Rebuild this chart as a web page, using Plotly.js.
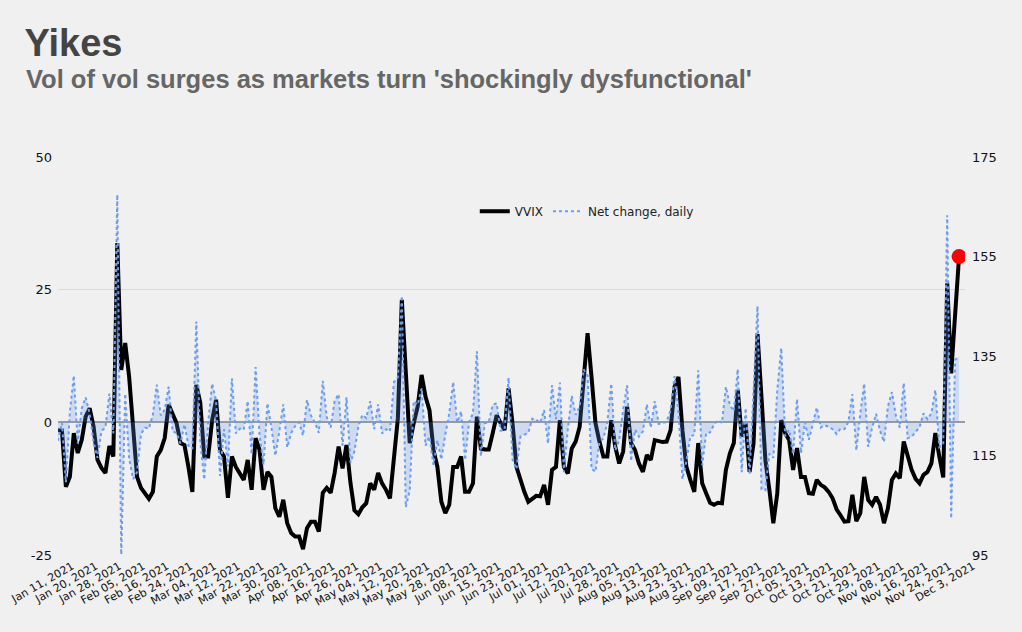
<!DOCTYPE html>
<html>
<head>
<meta charset="utf-8">
<script src="https://cdn.plot.ly/plotly-3.0.1.min.js"></script>
<style>
  html, body { margin: 0; padding: 0; background: #f0f0f0; }
  #chart { width: 1022px; height: 632px; }
</style>
</head>
<body>
<div id="chart"></div>
<script>
// Tick labels (one every 6 trading days)
const tickLabels = ["Jan 11, 2021","Jan 20, 2021","Jan 28, 2021","Feb 05, 2021","Feb 16, 2021","Feb 24, 2021","Mar 04, 2021","Mar 12, 2021","Mar 22, 2021","Mar 30, 2021","Apr 08, 2021","Apr 16, 2021","Apr 26, 2021","May 04, 2021","May 12, 2021","May 20, 2021","May 28, 2021","Jun 08, 2021","Jun 15, 2021","Jun 23, 2021","Jul 01, 2021","Jul 12, 2021","Jul 20, 2021","Jul 28, 2021","Aug 05, 2021","Aug 13, 2021","Aug 23, 2021","Aug 31, 2021","Sep 09, 2021","Sep 17, 2021","Sep 27, 2021","Oct 05, 2021","Oct 13, 2021","Oct 21, 2021","Oct 29, 2021","Nov 08, 2021","Nov 16, 2021","Nov 24, 2021","Dec 3, 2021"];
const tickStep = 6;

// VVIX level (right axis)
const vvix = [
120.1,120.0,108.7,110.7,119.5,115.5,118.1,122.8,124.5,120.8,
114.1,112.5,111.5,116.9,114.8,157.7,132.2,137.6,130.8,120.1,
110.7,108.5,107.5,106.3,107.7,114.8,116.1,118.5,125.2,123.5,
121.5,117.5,117.1,112.7,107.7,129.2,125.6,114.8,114.8,122.1,
126.2,116.1,114.8,106.5,114.8,112.7,111.5,110.1,114.1,108.1,
118.5,116.1,108.1,111.7,110.7,104.4,102.7,106.1,101.4,99.4,
98.7,98.7,96.2,100.4,101.7,101.7,99.7,107.5,108.5,107.5,
111.5,116.8,112.4,117.1,109.5,104.0,103.2,104.6,105.4,109.4,
108.1,111.5,109.4,108.1,106.4,114.0,122.5,146.3,130.3,117.5,
121.5,124.8,131.2,126.8,124.1,116.1,112.7,105.7,103.4,105.1,
112.7,112.7,114.8,107.7,107.7,109.4,122.8,116.4,116.2,116.2,
119.5,123.1,121.5,120.1,128.5,121.5,112.7,110.0,107.7,105.7,
106.4,106.9,106.8,109.1,105.1,112.1,112.7,122.1,112.7,111.4,
116.4,117.8,120.8,130.8,139.6,130.8,121.5,117.8,114.8,114.8,
122.1,116.8,113.4,115.8,124.8,117.5,116.1,113.4,111.7,115.1,
114.1,118.1,117.8,117.7,117.8,120.1,128.8,130.8,120.1,112.7,
110.1,107.7,117.5,109.4,107.4,105.5,105.1,105.5,105.4,112.1,
115.4,117.5,128.2,118.8,121.5,111.7,117.5,139.4,126.8,114.0,
108.1,101.4,107.4,122.1,119.5,118.1,112.1,116.5,110.7,110.7,
107.4,107.3,110.1,109.1,108.6,107.7,106.4,104.2,103.0,101.7,
101.8,107.1,101.8,103.4,110.7,106.1,105.1,106.7,105.1,101.4,
104.4,110.1,111.4,110.4,117.8,114.8,112.1,110.3,109.4,111.1,
111.7,113.4,119.5,114.8,110.6,149.6,131.5,143.3,155.0
];

// Net change, daily (left axis)
const netChange = [
-3.5,-0.1,-11.3,2.0,8.8,-4.0,2.6,4.7,1.7,-3.7,
-6.7,-1.6,-1.0,5.4,-2.1,42.9,-25.5,5.4,-6.8,-10.7,
-9.4,-2.2,-1.0,-1.2,1.4,7.1,1.3,2.4,6.7,-1.7,
-2.0,-4.0,-0.4,-4.4,-5.0,19.0,-3.6,-10.8,0.0,7.3,
4.1,-10.1,-1.3,-8.3,8.3,-2.1,-1.2,-1.4,4.0,-6.0,
10.4,-2.4,-8.0,3.6,-1.0,-6.3,-1.7,3.4,-4.7,-2.0,
-0.7,0.0,-2.5,4.2,1.3,0.0,-2.0,7.8,1.0,-1.0,
4.0,5.3,-4.4,4.7,-7.6,-5.5,-0.8,1.4,0.8,4.0,
-1.3,3.4,-2.1,-1.3,-1.7,7.6,8.5,23.8,-16.0,-12.8,
4.0,3.3,6.4,-4.4,-2.7,-8.0,-3.4,-7.0,-2.3,1.7,
7.6,0.0,2.1,-7.1,0.0,1.7,13.4,-6.4,-0.2,0.0,
3.3,3.6,-1.6,-1.4,8.4,-7.0,-8.8,-2.7,-2.3,-2.0,
0.7,0.5,-0.1,2.3,-4.0,7.0,0.6,7.5,-9.4,-1.3,
5.0,1.4,3.0,10.0,8.8,-8.8,-9.3,-3.7,-3.0,0.0,
7.3,-5.3,-3.4,2.4,7.0,-7.3,-1.4,-2.7,-1.7,3.4,
-1.0,4.0,-0.3,-0.1,0.1,2.3,8.7,2.0,-10.7,-7.4,
-2.6,-2.4,9.8,-8.1,-2.0,-1.9,-0.4,0.4,-0.1,6.7,
3.3,2.1,10.0,-9.4,2.7,-9.8,5.8,21.9,-12.6,-12.8,
-5.9,-6.7,6.0,14.0,-2.6,-1.4,-6.0,4.4,-5.8,0.0,
-3.3,-0.1,2.8,-1.0,-0.5,-0.9,-1.3,-2.2,-1.2,-1.3,
0.1,5.3,-5.3,1.6,7.3,-4.6,-1.0,1.6,-1.6,-3.7,
3.0,5.7,1.3,-1.0,7.4,-3.0,-2.7,-1.8,-0.9,1.7,
0.6,1.7,6.1,-4.7,-4.2,39.0,-18.1,11.8,12.4
];

const tickVals = tickLabels.map((_, k) => k * tickStep);
const lastIdx = vvix.length - 1;

const font = "DejaVu Sans, Verdana, sans-serif";
const blue = "#6a9df0";

const traces = [
  {
    name: "VVIX",
    y: vvix,
    type: "scatter",
    mode: "lines",
    yaxis: "y",
    line: { color: "#000000", width: 4 },
    hoverinfo: "y"
  },
  {
    name: "Net change fill",
    y: netChange,
    type: "scatter",
    mode: "lines",
    yaxis: "y2",
    fill: "tozeroy",
    fillcolor: "rgba(100,149,237,0.24)",
    line: { color: "rgba(0,0,0,0)", width: 0 },
    showlegend: false,
    hoverinfo: "skip"
  },
  {
    name: "Net change, daily",
    y: netChange,
    type: "scatter",
    mode: "lines",
    yaxis: "y2",
    line: { color: blue, width: 2, dash: "dot" },
    hoverinfo: "y"
  },
  {
    name: "Latest",
    x: [lastIdx],
    y: [vvix[lastIdx]],
    type: "scatter",
    mode: "markers",
    yaxis: "y",
    showlegend: false,
    marker: { color: "#ff0000", size: 15 },
    hoverinfo: "y"
  }
];

const layout = {
  width: 1022,
  height: 632,
  paper_bgcolor: "#f0f0f0",
  plot_bgcolor: "#f0f0f0",
  margin: { l: 58, r: 57, t: 157, b: 77 },
  font: { family: font, size: 12, color: "#222222" },
  title: {
    text: "<b>Yikes</b>",
    font: { family: "Liberation Sans, Arial, sans-serif", size: 38, color: "#444444" },
    xref: "container", x: 0.024, xanchor: "left",
    yref: "container", y: 0.932, yanchor: "middle"
  },
  annotations: [
    {
      text: "<b>Vol of vol surges as markets turn 'shockingly dysfunctional'</b>",
      xref: "paper", yref: "paper",
      x: -0.038, y: 1.196, xanchor: "left", yanchor: "middle",
      showarrow: false,
      font: { family: "Liberation Sans, Arial, sans-serif", size: 25.5, color: "#666666" }
    }
  ],
  showlegend: true,
  legend: {
    orientation: "h",
    x: 0.583, xanchor: "center",
    y: 0.864, yanchor: "middle",
    bgcolor: "rgba(0,0,0,0)",
    font: { family: font, size: 12, color: "#222222" },
    itemwidth: 30
  },
  xaxis: {
    range: [0, 229.5],
    tickmode: "array",
    tickvals: tickVals,
    ticktext: tickLabels,
    tickangle: -30,
    tickfont: { family: font, size: 11, color: "#111111" },
    showgrid: false,
    zeroline: false,
    showline: false,
    ticks: "",
    ticklabelshift: 14,
    ticklabelstandoff: 2
  },
  yaxis: {
    side: "right",
    range: [95, 175],
    tickmode: "array",
    tickvals: [95, 115, 135, 155, 175],
    showgrid: false,
    zeroline: false,
    showline: false,
    ticks: "",
    ticklabelstandoff: 6,
    tickfont: { family: font, size: 13, color: "#111111" }
  },
  yaxis2: {
    overlaying: "y",
    side: "left",
    range: [-25, 50],
    tickmode: "array",
    tickvals: [-25, 0, 25, 50],
    ticktext: ["-25", "0", "25", "50"],
    showgrid: true,
    gridcolor: "#d9d9d9",
    gridwidth: 1.5,
    zeroline: true,
    zerolinecolor: "#9a9a9a",
    zerolinewidth: 2,
    showline: false,
    ticks: "",
    ticklabelstandoff: 5,
    tickfont: { family: font, size: 13, color: "#111111" }
  }
};

Plotly.newPlot("chart", traces, layout, { displayModeBar: false, staticPlot: true });
</script>
</body>
</html>
